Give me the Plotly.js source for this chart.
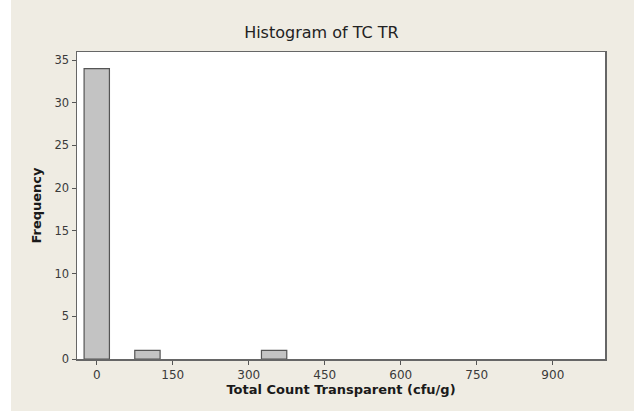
<!DOCTYPE html>
<html>
<head>
<meta charset="utf-8">
<script src="https://cdn.plot.ly/plotly-3.0.1.min.js"></script>
<style>html,body{margin:0;padding:0;background:#efece3;}</style>
</head>
<body>
<div id="chart" style="width:634px;height:411px;"></div>
<script>
const binCenters = [0, 100, 350];
const frequencies = [34, 1, 1];
const binWidth = 50;
const xTickVals = [0, 150, 300, 450, 600, 750, 900];
const yTickVals = [0, 5, 10, 15, 20, 25, 30, 35];

const trace = {
  type: 'bar',
  x: binCenters,
  y: frequencies,
  width: binCenters.map(() => binWidth),
  marker: {color: '#c3c3c3', line: {color: '#555555', width: 1.2}},
  hoverinfo: 'x+y'
};

const fontFam = '"DejaVu Sans", "Liberation Sans", sans-serif';

const layout = {
  width: 634, height: 411,
  margin: {l: 77, r: 29, t: 52, b: 52},
  paper_bgcolor: '#efece3',
  plot_bgcolor: '#ffffff',
  showlegend: false,
  title: {text: 'Histogram of TC TR', x: 0.507, xanchor: 'center', y: 0.921, yanchor: 'middle',
          font: {family: fontFam, size: 16, color: '#222222'}},
  xaxis: {
    range: [-39, 1003],
    tickvals: xTickVals, ticktext: xTickVals.map(String),
    ticks: 'outside', ticklen: 4, tickcolor: '#555555', tickwidth: 1,
    showline: true, linecolor: '#666666', linewidth: 1.5, mirror: true,
    showgrid: false, zeroline: false,
    tickfont: {family: fontFam, size: 12, color: '#3a3a3a'},
    title: {text: '<b>Total Count Transparent (cfu/g)</b>', standoff: 2,
            font: {family: fontFam, size: 13, color: '#1a1a1a'}}
  },
  yaxis: {
    range: [0, 35.94],
    tickvals: yTickVals, ticktext: yTickVals.map(String),
    ticks: 'outside', ticklen: 4, tickcolor: '#555555', tickwidth: 1,
    showline: true, linecolor: '#666666', linewidth: 1.5, mirror: true,
    showgrid: false, zeroline: false,
    tickfont: {family: fontFam, size: 11.5, color: '#3a3a3a'},
    title: {text: '<b>Frequency</b>', standoff: 10,
            font: {family: fontFam, size: 13, color: '#1a1a1a'}}
  },
  shapes: [
    {type: 'rect', xref: 'paper', yref: 'paper', x0: -77/528, x1: -66/528, y0: -52/307, y1: 359/307,
     fillcolor: '#ffffff', line: {width: 0}, layer: 'below'}
  ]
};

Plotly.newPlot('chart', [trace], layout, {displayModeBar: false, staticPlot: true});
</script>
</body>
</html>
